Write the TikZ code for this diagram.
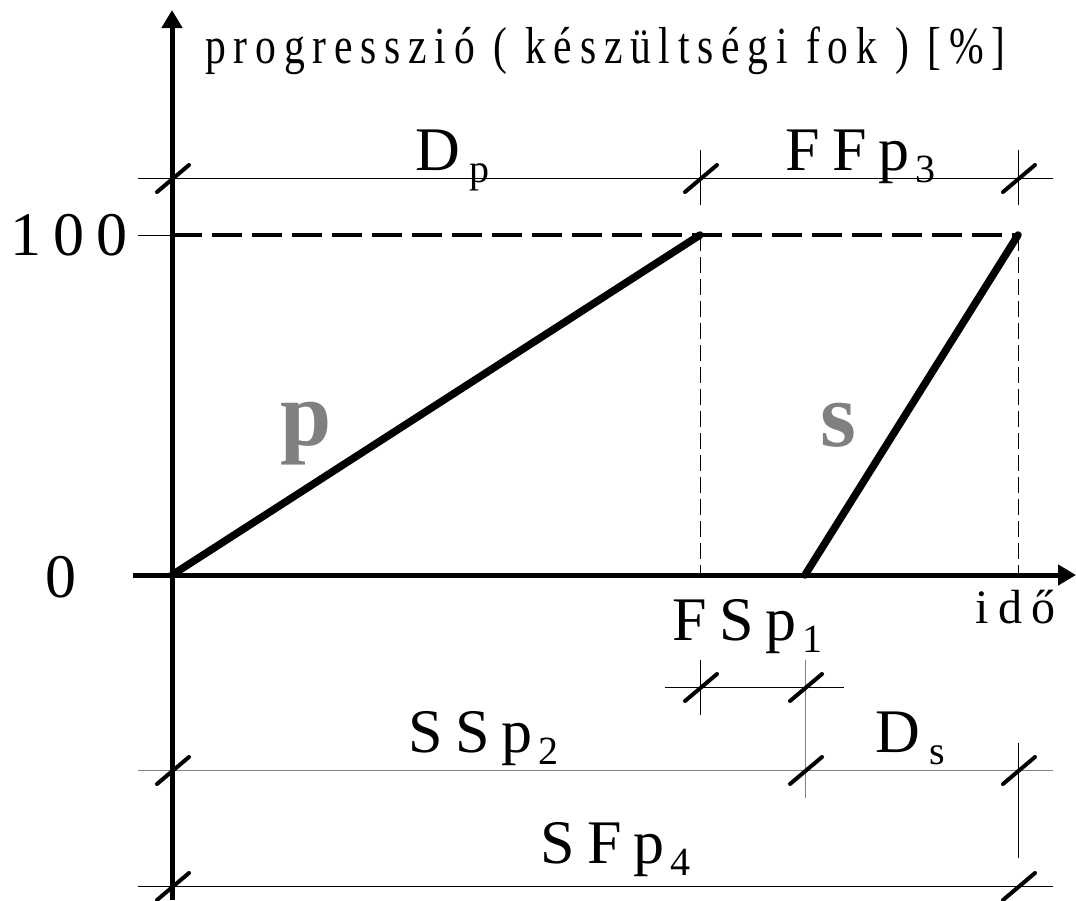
\documentclass[tikz,border=0pt]{standalone}
\usepackage{fontspec}
\setmainfont{Liberation Serif}
\newfontfamily\labelfont[LetterSpace=20]{Liberation Serif}
\newfontfamily\titlefont[FakeStretch=0.8,LetterSpace=15]{Liberation Serif}
\usetikzlibrary{arrows.meta,calc}

% lowered index of a label
\newcommand{\lowidx}[1]{\kern6pt\raisebox{-12pt}{\fontsize{40}{40}\selectfont #1}}

\begin{document}
\begin{tikzpicture}[x=1pt, y=-1pt,
    axis/.style={line width=5pt, -{Triangle[length=18pt,width=20pt]}},
    graph/.style={line width=7.5pt, line cap=round},
    thinline/.style={line width=1pt},
    guide/.style={line width=1pt, dash pattern=on 16pt off 6pt},
    limit/.style={line width=4pt, dash pattern=on 30pt off 10pt},
    slash/.style={line width=4pt, line cap=round},
    lbl/.style={font=\fontsize{62}{62}\selectfont\labelfont, inner sep=0pt, anchor=base west},
    titlelbl/.style={font=\fontsize{52}{52}\selectfont\titlefont, inner sep=0pt, anchor=base west},
    big/.style={font=\fontsize{92}{92}\selectfont\bfseries, text=gray, inner sep=0pt, anchor=base west}
]
  \useasboundingbox (0,0) rectangle (1076,900);

  % Points of the two activities
  \coordinate (O) at (172,575);
  \coordinate (pend) at (700,235);
  \coordinate (sstart) at (805,575);
  \coordinate (send) at (1018,235);

  % Dimension lines
  \draw[thinline] (138,178) -- (1053,178);
  \draw[thinline] (138,235) -- (O |- pend);
  \draw[limit] (O |- pend) -- (send);
  \draw[thinline] (665,687) -- (844,687);
  \draw[thinline, gray] (138,770) -- (1053,770);
  \draw[thinline] (138,886) -- (1053,886);

  % Extension lines
  \draw[thinline] (700,150) -- (700,205);
  \draw[guide] (pend) -- (pend |- O);
  \draw[thinline] (700,660) -- (700,715);
  \draw[thinline] (1018,150) -- (1018,205);
  \draw[guide] (send) -- (send |- O);
  \draw[thinline] (1018,743) -- (1018,858);
  \draw[thinline, gray] (805,660) -- (805,798);

  % Axes
  \draw[axis] (172,900) -- (172,10);
  \draw[axis] (133,575) -- (1076,575);

  % Activities
  \draw[graph] (O) -- (pend);
  \draw[graph] (sstart) -- (send);

  % Ticks
  \foreach \px/\py in {172/178, 700/178, 1018/178, 700/687, 805/687,
                       172/770, 805/770, 1018/770, 172/886, 1018/886}
    \draw[slash] (\px-15,\py+14) -- (\px+17,\py-13);

  % Labels
  \node[titlelbl] (title) at (205,63) {progresszió ( készültségi fok ) [\%]};
  \node[lbl] (hundred) at (10,255) {100};
  \node[lbl] (zero) at (45,597) {0};
  \node[lbl] (dp) at (415,170) {D\kern4pt\lowidx{p}};
  \node[lbl] (ffp) at (785,170) {FFp\lowidx{3}};
  \node[lbl] (fsp) at (672,640) {FSp\lowidx{1}};
  \node[font=\fontsize{48}{48}\selectfont\labelfont, inner sep=0pt, anchor=base west] (ido) at (975,623) {idő};
  \node[lbl] (ssp) at (408,752) {SSp\lowidx{2}};
  \node[lbl] (ds) at (875,752) {D\kern4pt\lowidx{s}};
  \node[lbl] (sfp) at (540,863) {SFp\lowidx{4}};
  \node[big] (plbl) at (280,445) {p};
  \node[big] (slbl) at (820,446) {s};
\end{tikzpicture}
\end{document}
